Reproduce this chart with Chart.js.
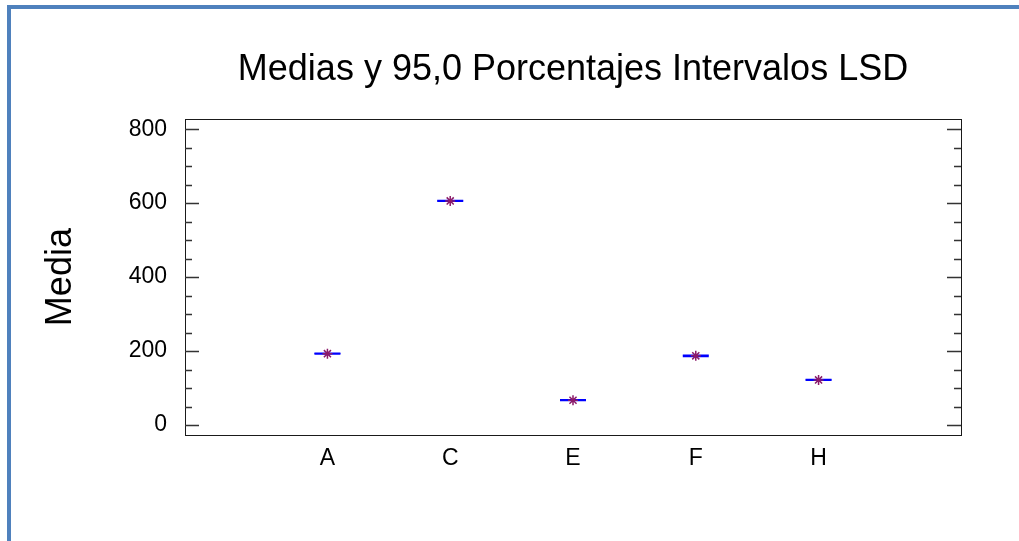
<!DOCTYPE html>
<html>
<head>
<meta charset="utf-8">
<script src="https://cdn.jsdelivr.net/npm/chart.js@4.4.1/dist/chart.umd.min.js"></script>
<style>
  html, body { margin: 0; padding: 0; background: #fff; }
  #wrap { position: relative; width: 1019px; height: 541px; overflow: hidden; }
  #frame { position: absolute; left: 7px; top: 5px; width: 1020px; height: 540px;
           border-top: 4px solid #4F81BD; border-left: 4px solid #4F81BD; box-sizing: border-box; }
  #c { position: absolute; left: 0; top: 0; }
</style>
</head>
<body>
<div id="wrap">
  <div id="frame"></div>
  <canvas id="c" width="1019" height="541"></canvas>
</div>
<script>
// ---- data ----
const categories = ['A', 'C', 'E', 'F', 'H'];
const means      = [193, 606, 67, 187, 122];
const lowerLSD   = [192, 605, 66, 185, 121];
const upperLSD   = [194, 607, 68, 189, 123];
const yTickLabels = [0, 200, 400, 600, 800];
const yMinorStep = 50;

const xPos = categories.map((c, i) => i + 1);
const toPts = arr => arr.map((v, i) => ({ x: xPos[i], y: v }));

const FONT = "Arial, 'Liberation Sans', sans-serif";

const framePlugin = {
  id: 'framePlugin',
  afterDraw(chart) {
    const { ctx, chartArea: a, scales: { y } } = chart;
    ctx.save();
    ctx.strokeStyle = '#1a1a1a';
    ctx.lineWidth = 1;
    ctx.strokeRect(Math.round(a.left) + 0.5, Math.round(a.top) + 0.5,
                   Math.round(a.right - a.left), Math.round(a.bottom - a.top));
    ctx.strokeStyle = '#333';
    const lo = yTickLabels[0], hi = yTickLabels[yTickLabels.length - 1];
    for (let v = lo; v <= hi; v += yMinorStep) {
      const major = yTickLabels.includes(v);
      const len = major ? 14 : 7;
      const py = Math.round(y.getPixelForValue(v)) + 0.5;
      ctx.beginPath();
      ctx.lineWidth = 1.5;
      ctx.moveTo(a.left, py); ctx.lineTo(a.left + len, py);
      ctx.moveTo(a.right, py); ctx.lineTo(a.right - len, py);
      ctx.stroke();
    }
    ctx.restore();
  }
};

new Chart(document.getElementById('c'), {
  type: 'scatter',
  data: {
    datasets: [
      { label: 'LSD inferior', data: toPts(lowerLSD), pointStyle: 'line', pointRadius: 13,
        borderColor: '#0000ff', backgroundColor: '#0000ff', pointBorderWidth: 1.5, order: 2 },
      { label: 'LSD superior', data: toPts(upperLSD), pointStyle: 'line', pointRadius: 13,
        borderColor: '#0000ff', backgroundColor: '#0000ff', pointBorderWidth: 1.5, order: 2 },
      { label: 'Media', data: toPts(means), pointStyle: 'star', pointRadius: 5,
        borderColor: '#8b1a6a', backgroundColor: '#8b1a6a', pointBorderWidth: 1.5, order: 1 }
    ]
  },
  options: {
    responsive: false,
    animation: false,
    events: [],
    layout: { padding: { left: 12, right: 58, top: 0, bottom: 0 } },
    plugins: {
      legend: { display: false },
      tooltip: { enabled: false },
      title: {
        display: true,
        text: 'Medias y 95,0 Porcentajes Intervalos LSD',
        fullSize: false,
        color: '#000',
        font: { family: FONT, size: 36, weight: 'normal', lineHeight: 1.2 },
        padding: { top: 48, bottom: 28 }
      }
    },
    scales: {
      x: {
        type: 'linear',
        min: -0.16, max: 6.16,
        grid: { display: false, drawTicks: false },
        border: { display: false },
        afterBuildTicks: s => { s.ticks = xPos.map(v => ({ value: v })); },
        afterFit: s => { s.height = 106; },
        ticks: {
          padding: 10,
          color: '#000',
          font: { family: FONT, size: 23 },
          callback: (v) => categories[v - 1] ?? ''
        }
      },
      y: {
        type: 'linear',
        min: -27, max: 827,
        grid: { display: false, drawTicks: false },
        border: { display: false },
        afterBuildTicks: s => { s.ticks = yTickLabels.map(v => ({ value: v })); },
        afterFit: s => { s.width = 173; },
        ticks: {
          padding: 18,
          color: '#000',
          font: { family: FONT, size: 23 }
        },
        title: {
          display: true,
          text: 'Media',
          color: '#000',
          font: { family: FONT, size: 36, lineHeight: 1.2 },
          padding: { top: 27, bottom: 0 }
        }
      }
    }
  },
  plugins: [framePlugin]
});
</script>
</body>
</html>
